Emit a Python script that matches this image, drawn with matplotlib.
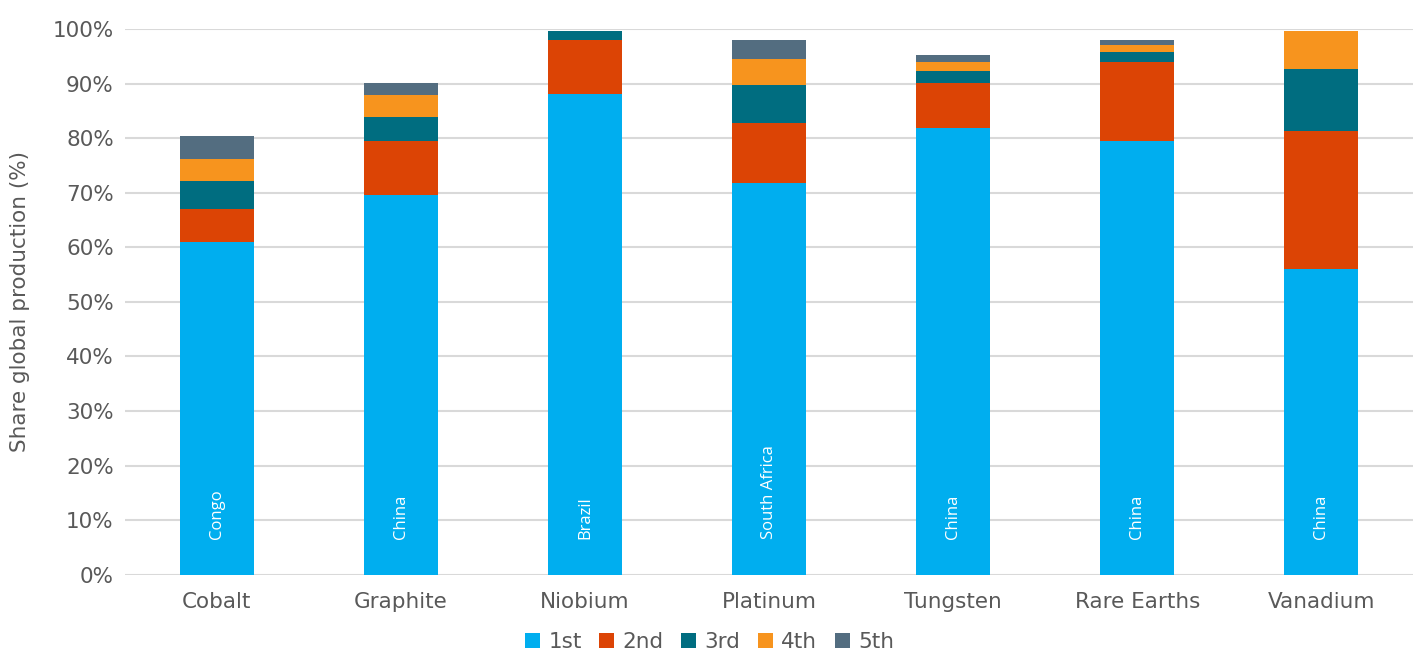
import matplotlib.pyplot as plt
from matplotlib.patches import Patch

minerals = ['Cobalt', 'Graphite', 'Niobium', 'Platinum', 'Tungsten', 'Rare Earths', 'Vanadium']
top_country = ['Congo', 'China', 'Brazil', 'South Africa', 'China', 'China', 'China']
ranks = ['1st', '2nd', '3rd', '4th', '5th']

# share of global production (%) per producer rank
first = [61.0, 69.6, 88.0, 71.8, 81.8, 79.5, 56.1]
second = [6.0, 9.9, 10.0, 11.0, 8.3, 14.5, 25.2]
third = [5.2, 4.4, 1.7, 6.9, 2.1, 1.7, 11.4]
fourth = [3.9, 4.0, 0.0, 4.8, 1.8, 1.4, 7.0]
fifth = [4.3, 2.2, 0.0, 3.5, 1.3, 0.8, 0.0]

colors = ['#00AEEF', '#DC4405', '#006D80', '#F7941E', '#536D80']
grey = '#595959'

fig = plt.figure(figsize=(14.19, 6.57), dpi=100)
ax = fig.add_axes([0.088, 0.125, 0.908, 0.831])

x = range(len(minerals))
bottom = [0.0] * len(minerals)
for vals, c in zip([first, second, third, fourth, fifth], colors):
    ax.bar(x, vals, width=0.4, bottom=bottom, color=c, zorder=3)
    bottom = [b + v for b, v in zip(bottom, vals)]

for i, name in enumerate(top_country):
    ax.text(i, 6.5, name, rotation=90, ha='center', va='bottom', color='white',
            fontsize=12, family='Open Sans', zorder=4)

ax.set_xlim(-0.5, 6.5)
ax.set_ylim(0, 100)
ax.set_yticks(range(0, 101, 10))
ax.set_yticklabels([f'{t}%' for t in range(0, 101, 10)])
ax.set_xticks(list(x))
ax.set_xticklabels(minerals)
ax.tick_params(axis='y', length=0, labelsize=15.5, colors=grey, pad=8)
ax.tick_params(axis='x', length=0, labelsize=15.5, colors=grey, pad=12)
ax.grid(axis='y', color='#d9d9d9', linewidth=1.5, zorder=0)
for s in ax.spines.values():
    s.set_visible(False)
ax.set_ylabel('Share global production (%)', fontsize=15.5, color=grey, labelpad=16)

handles = [Patch(facecolor=c, label=r) for c, r in zip(colors, ranks)]
fig.legend(handles=handles, loc='lower center', bbox_to_anchor=(0.5, -0.022), ncol=5,
           frameon=False, fontsize=15.5, labelcolor=grey, handlelength=0.7,
           handleheight=0.7, handletextpad=0.4, columnspacing=0.8)

fig.savefig('out.png', dpi=100)
